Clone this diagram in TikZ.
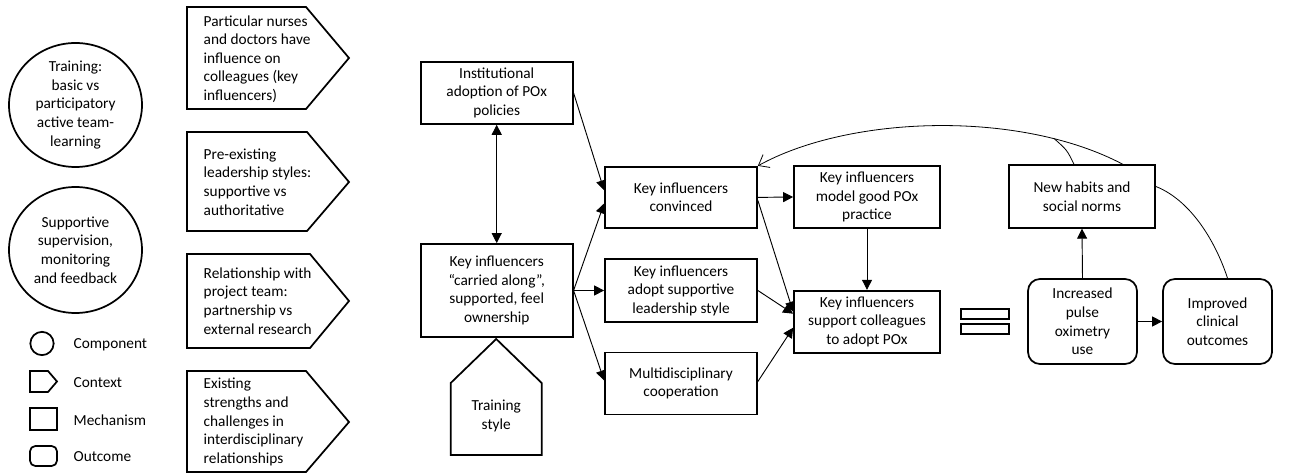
\documentclass[tikz,border=0pt]{standalone}
\usepackage{fontspec}
\setmainfont{Carlito}
\usetikzlibrary{arrows.meta,calc,shapes.geometric}

\tikzset{
  every node/.style={font=\fontsize{11.5}{13.9}\selectfont},
  mech/.style={draw, line width=1.3pt, align=center, inner sep=2pt},
  outc/.style={mech, rounded corners=9pt},
  comp/.style={draw, line width=1.3pt, ellipse, align=center, inner sep=0pt},
  ctx/.style={draw, line width=1.3pt, line join=miter},
  arr/.style={line width=0.7pt, -{Triangle[length=7.5pt,width=7.5pt]}},
  biarr/.style={line width=0.7pt, {Triangle[length=7.5pt,width=7.5pt]}-{Triangle[length=7.5pt,width=7.5pt]}},
  fback/.style={line width=0.6pt},
}

\begin{document}
\begin{tikzpicture}[x=0.75pt,y=-0.75pt]
  \useasboundingbox (0,0) rectangle (1295,473);

  % Components
  \node[comp, minimum width=99.75pt, minimum height=93pt] (Training) at (75.5,105)
    {Training:\\basic vs\\participatory\\active team-\\learning};
  \node[comp, minimum width=99.75pt, minimum height=94.5pt] (Supervision) at (75.5,250)
    {Supportive\\supervision,\\monitoring\\and feedback};

  % Legend
  \node[draw, line width=1.3pt, circle, minimum size=17.5pt, inner sep=0pt] (legComp) at (42,343.5) {};
  \node[anchor=west] (legCompTxt) at (69,345) {Component};
  \draw[ctx] (30,371) -- (48,371) -- (57,381.5) -- (48,392) -- (30,392) -- cycle;
  \node[anchor=west] (legCtxTxt) at (69,383) {Context};
  \node[draw, line width=1.3pt, minimum width=20.25pt, minimum height=16.5pt, inner sep=0pt] (legMech) at (43.5,419) {};
  \node[anchor=west] (legMechTxt) at (69,420) {Mechanism};
  \node[draw, line width=1.3pt, rounded corners=4pt, minimum width=20.25pt, minimum height=15pt, inner sep=0pt] (legOut) at (43.5,456) {};
  \node[anchor=west] (legOutTxt) at (69,457) {Outcome};

  % Contexts
  \draw[ctx] (187,7) -- (306,7) -- (349,58) -- (306,109) -- (187,109) -- cycle;
  \node[anchor=west, align=left] (ctxInfl) at (199,59)
    {Particular nurses\\and doctors have\\influence on\\colleagues (key\\influencers)};
  \draw[ctx] (187,132) -- (307,132) -- (349,182) -- (307,231) -- (187,231) -- cycle;
  \node[anchor=west, align=left] (ctxLead) at (199,182)
    {Pre-existing\\leadership styles:\\supportive vs\\authoritative};
  \draw[ctx] (187,254) -- (310,254) -- (349,301) -- (310,348) -- (187,348) -- cycle;
  \node[anchor=west, align=left] (ctxTeam) at (199,301)
    {Relationship with\\project team:\\partnership vs\\external research};
  \draw[ctx] (187,371) -- (306,371) -- (349,422) -- (306,472) -- (187,472) -- cycle;
  \node[anchor=west, align=left] (ctxStr) at (199,422)
    {Existing\\strengths and\\challenges in\\interdisciplinary\\relationships};

  % Training style context
  \draw[ctx] (450.7,455) -- (450.7,383) -- (496.2,339) -- (541.7,383) -- (541.7,455) -- cycle;
  \node[align=center] (ctxTrain) at (496.2,416) {Training\\style};

  % Mechanisms
  \node[mech, minimum width=114pt, minimum height=46.5pt] (Inst) at (496.7,92.9)
    {Institutional\\adoption of POx\\policies};
  \node[mech, minimum width=114pt, minimum height=69.75pt] (KIcarried) at (496.7,290.5)
    {Key influencers\\“carried along”,\\supported, feel\\ownership};
  \node[mech, minimum width=114pt, minimum height=46pt] (KIconvinced) at (681,197.4)
    {Key influencers\\convinced};
  \node[mech, minimum width=114pt, minimum height=47pt] (KIadopt) at (681,290.5)
    {Key influencers\\adopt supportive\\leadership style};
  \node[mech, minimum width=114pt, minimum height=46.5pt] (Multi) at (681,383.5)
    {Multidisciplinary\\cooperation};
  \node[mech, minimum width=109.5pt, minimum height=46.5pt] (KImodel) at (867,197)
    {Key influencers\\model good POx\\practice};
  \node[mech, minimum width=109.5pt, minimum height=46.5pt] (KIsupport) at (867,321.7)
    {Key influencers\\support colleagues\\to adopt POx};
  \node[mech, minimum width=109.5pt, minimum height=47pt] (NewHabits) at (1082,196.5)
    {New habits and\\social norms};

  % Equals sign
  \draw[line width=1.3pt] (961,309) rectangle (1009,319);
  \draw[line width=1.3pt] (961,324) rectangle (1009,334);

  % Outcomes
  \node[outc, minimum width=81.75pt, minimum height=63.75pt] (Increased) at (1082.5,321.5)
    {Increased\\pulse\\oximetry\\use};
  \node[outc, minimum width=81.75pt, minimum height=63.75pt] (Improved) at (1217.5,321.5)
    {Improved\\clinical\\outcomes};

  % Arrows
  \draw[biarr] (Inst.south) -- (KIcarried.north);
  \draw[arr] (Inst.east) -- ($(KIconvinced.west)+(0,-7)$);
  \draw[arr] (KIcarried.east) -- ($(KIconvinced.west)+(0,6)$);
  \draw[arr] (KIcarried.east) -- (KIadopt.west);
  \draw[arr] (KIcarried.east) -- ($(Multi.west)+(0,-3)$);
  \draw[arr] (KIconvinced.east) -- (KImodel.west);
  \draw[arr] ($(KIconvinced.east)+(0,3)$) -- ($(KIsupport.west)+(0,-10)$);
  \draw[arr] (KIadopt.east) -- ($(KIsupport.west)+(0,-8)$);
  \draw[arr] ($(Multi.east)+(0,-2)$) -- ($(KIsupport.west)+(0,6)$);
  \draw[arr] (KImodel.south) -- (KIsupport.north);
  \draw[arr] (Increased.north) -- (NewHabits.south);
  \draw[arr] (Increased.east) -- (Improved.west);

  % Feedback loop
  \draw[fback] ($(Improved.north)+(10,0)$) .. controls (1215,240) and (1190,200) .. ($(NewHabits.east)+(0,-10)$);
  \draw[fback, -{Straight Barb[length=7pt,width=11pt]}] ($(NewHabits.north east)+(-33,0)$)
    .. controls (1020,110) and (850,115) .. (KIconvinced.north east) coordinate[pos=0.2] (join);
  \draw[fback] ($(NewHabits.north)+(-8,0)$) .. controls (1067,150) .. (join);
\end{tikzpicture}
\end{document}
